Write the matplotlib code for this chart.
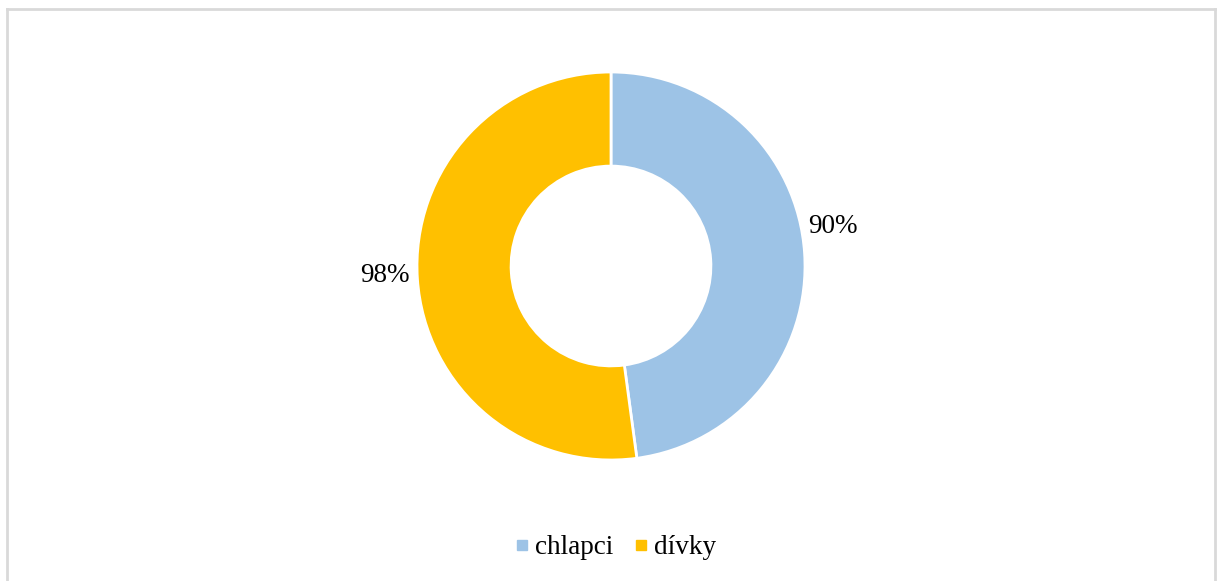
import matplotlib.pyplot as plt
from matplotlib.lines import Line2D

plt.rcParams['font.family'] = ['Liberation Serif', 'DejaVu Serif']

labels = ['chlapci', 'dívky']
values = [90, 98]
colors = ['#9DC3E6', '#FFC000']

W, H = 1221, 581
CX, CY, R = 611, 266, 194  # donut centre and outer radius, px
HALF = 250

fig = plt.figure(figsize=(W / 100, H / 100), dpi=100)
ax = fig.add_axes([(CX - HALF) / W, (H - CY - HALF) / H, 2 * HALF / W, 2 * HALF / H])

wedges, _ = ax.pie(values, colors=colors, startangle=90, counterclock=False,
                   radius=1.0, wedgeprops=dict(width=0.485, edgecolor='white', linewidth=2))
ax.set_aspect('auto')
ax.set_xlim(-HALF / R, HALF / R)
ax.set_ylim(-HALF / R, HALF / R)
ax.axis('off')

# value labels outside the ring
label_pos = [(1.144, 0.206), (-1.165, -0.05)]
for v, (x, y) in zip(values, label_pos):
    ax.text(x, y, f"{v}%", ha='center', va='center', fontsize=19.5, color='#000000')

# light grey chart border (open at the bottom)
border = dict(color='#d9d9d9', linewidth=2, transform=fig.transFigure)
fig.add_artist(Line2D([7.5 / W, 7.5 / W], [0, 1 - 8.5 / H], **border))
fig.add_artist(Line2D([7.5 / W, 1215 / W], [1 - 8.5 / H, 1 - 8.5 / H], **border))
fig.add_artist(Line2D([1215 / W, 1215 / W], [0, 1 - 8.5 / H], **border))

handles = [Line2D([], [], marker='s', linestyle='none', markersize=6.5,
                  markerfacecolor=c, markeredgecolor=c) for c in colors]
fig.legend(handles, labels, loc='center', bbox_to_anchor=(615 / W, 1 - 548 / H),
           ncol=2, frameon=False, fontsize=19.5, handletextpad=0.15,
           columnspacing=0.75, handlelength=0.6)

fig.savefig('out.png', dpi=100)
